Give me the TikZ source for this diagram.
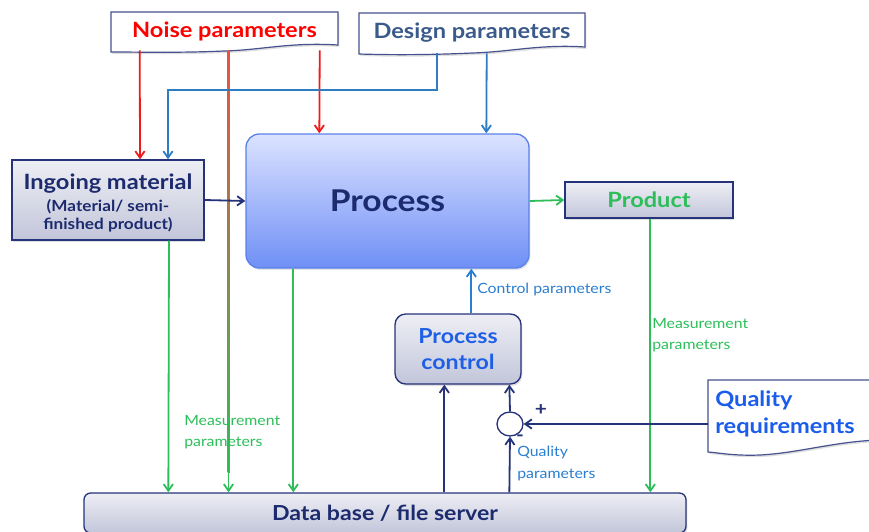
\documentclass[tikz,border=0pt]{standalone}
\usepackage{fontspec}
\setmainfont{Lato}[FakeStretch=1.12]
\usetikzlibrary{arrows.meta,shadows,calc,shapes.geometric}
\definecolor{navy}{HTML}{26327A}
\definecolor{navytext}{HTML}{1C2A6E}
\definecolor{nred}{HTML}{F01A1A}
\definecolor{dblue}{HTML}{2E7CC4}
\definecolor{dtext}{HTML}{3A5A8C}
\definecolor{mgreen}{HTML}{2DBE5A}
\definecolor{lblue}{HTML}{2A7ED0}
\definecolor{pctext}{HTML}{1E5FE6}
\definecolor{qtext}{HTML}{1A5CEB}
\definecolor{pborder}{HTML}{5A82E8}
\definecolor{ptop}{HTML}{DCE3FF}
\definecolor{pbot}{HTML}{6F8FF6}
\definecolor{otop}{HTML}{F05040}
\definecolor{omid}{HTML}{E8A070}
\tikzset{
  tip/.style={-{Straight Barb[length=5pt,width=7pt]}, line width=1.35pt},
  graybox/.style={draw=navy, line width=1pt, top color=white!92!navy, bottom color=navy!28, drop shadow={opacity=0.25,shadow xshift=1pt,shadow yshift=-1.5pt}},
  docbox/.style={draw=navy!85, line width=0.9pt, fill=white, drop shadow={opacity=0.25,shadow xshift=1pt,shadow yshift=-1.5pt}},
  lbl/.style={font=\fontsize{10.6}{16}\selectfont, align=left, inner sep=0pt},
  box/.style={inner sep=0pt, align=center},
  bigb/.style={font=\bfseries\fontsize{15.8}{18}\selectfont},
}
\begin{document}
\begin{tikzpicture}[x=0.75pt,y=-0.75pt]
\useasboundingbox (0,0) rectangle (869,532);

% ---- wavy document boxes ----
\draw[docbox] (111,12) -- (338,12) -- (338,45) .. controls (290,42) and (262,50) .. (224,51) .. controls (180,53) and (140,52) .. (111,52) -- cycle;
\node[box, bigb, minimum width={227*0.75pt}, minimum height={38*0.75pt}, text=red] (noise) at (224.5,31) {Noise parameters};

\draw[docbox] (359,13) -- (585,13) -- (585,47) .. controls (540,44) and (510,52) .. (472,53) .. controls (430,55) and (390,55) .. (359,54) -- cycle;
\node[box, bigb, minimum width={226*0.75pt}, minimum height={40*0.75pt}, text=dtext] (design) at (472,33) {Design parameters};

\draw[docbox] (708,380) -- (885,380) -- (885,440) .. controls (840,440) and (800,453) .. (760,455) .. controls (735,456) and (720,453) .. (708,452) -- cycle;
\node[box, anchor=north west, align=left, text=qtext, font=\bfseries\fontsize{15.8}{20}\selectfont] (quality) at (715,391) {Quality\\requirements};
\coordinate (qin) at (708,424);

% ---- main boxes ----
\node[box, graybox, minimum width={192*0.75pt}, minimum height={80*0.75pt}, text=navytext] (ingoing) at (108,200) {};
\node[box, text=navytext, font=\bfseries\fontsize{11.5}{13.5}\selectfont] (ingtext) at (108,203)
  {{\fontsize{15.8}{15}\selectfont Ingoing material}\\[2.5pt](Material/ semi-\\finished product)};

\node[box, draw=pborder, line width=1pt, rounded corners=10pt, top color=ptop, bottom color=pbot, minimum width={283*0.75pt}, minimum height={134*0.75pt}, text=navytext, font=\bfseries\fontsize{22.5}{26}\selectfont, drop shadow={opacity=0.2,shadow xshift=1pt,shadow yshift=-1.5pt}] (process) at (387.5,201) {Process};

\node[box, graybox, bigb, minimum width={168*0.75pt}, minimum height={36*0.75pt}, text=mgreen] (product) at (649,200) {Product};

\node[box, graybox, rounded corners=8pt, minimum width={126*0.75pt}, minimum height={70*0.75pt}, text=pctext, font=\bfseries\fontsize{15.5}{20}\selectfont] (pc) at (458,349) {Process\\control};

\node[box, graybox, rounded corners=5pt, minimum width={602*0.75pt}, minimum height={40*0.75pt}, text=navytext, font=\bfseries\fontsize{15.5}{18}\selectfont] (db) at (385,513) {Data base / file server};

\node[draw=navy, line width=1pt, fill=white, ellipse, minimum width={26*0.75pt}, minimum height={24*0.75pt}, inner sep=0pt] (circ) at (510,424) {};

% ---- connectors ----
\draw[tip, nred] ($(noise.south west)+(29,0)$) -- ($(ingoing.north)+(32,0)$);
\draw[tip, nred] ($(noise.south west)+(209,0)$) -- ($(process.north west)+(74,0)$);
\shade[top color=otop, middle color=omid, bottom color=mgreen] ($(noise.south west)+(116.9,0)$) rectangle ($(db.north west)+(146.6,-20)$);
\draw[tip, mgreen] ($(db.north west)+(145.2,-21)$) -- ($(db.north west)+(145.2,0)$);

\draw[tip, dblue] ($(design.south west)+(78,0)$) |- (168,90) -- ($(ingoing.north)+(60,0)$);
\draw[tip, dblue] ($(design.south west)+(128,0)$) -- ($(process.north west)+(241,0)$);

\draw[tip, navy] (ingoing.east) -- (process.west);
\draw[tip, mgreen] (process.east) -- (product.west);

\draw[tip, mgreen] ($(ingoing.south)+(61,0)$) -- ($(db.north west)+(85,0)$);
\draw[tip, mgreen] ($(process.south west)+(48,0)$) -- ($(db.north west)+(210,0)$);
\draw[tip, mgreen] ($(product.south west)+(86,0)$) -- ($(db.north west)+(567,0)$);

\draw[tip, lblue] ($(pc.north west)+(77,0)$) -- ($(process.south west)+(226,0)$);

\draw[tip, navy] ($(db.north west)+(361,0)$) -- ($(pc.south west)+(50,0)$);
\draw[tip, navy] (circ.north) -- ($(pc.south west)+(115,0)$);
\draw[tip, navy] ($(db.north west)+(426,0)$) -- (circ.south);
\draw[tip, navy] (qin) -- (circ.east);

% ---- labels ----
\node[lbl, text=lblue, anchor=west] (lcp) at (477,290) {Control parameters};
\node[lbl, text=mgreen, anchor=north west] (lmp1) at (652,318) {Measurement\\parameters};
\node[lbl, text=mgreen, anchor=north west] (lmp2) at (184,415) {Measurement\\parameters};
\node[lbl, text=lblue, anchor=north west] (lqp) at (517,446) {Quality\\parameters};
\node[inner sep=0pt, text=navy, font=\bfseries\fontsize{14}{14}\selectfont] (plus) at (541,410) {+};
\node[inner sep=0pt, text=navy, font=\bfseries\fontsize{14}{14}\selectfont] (minus) at (520,438) {-};
\end{tikzpicture}
\end{document}
